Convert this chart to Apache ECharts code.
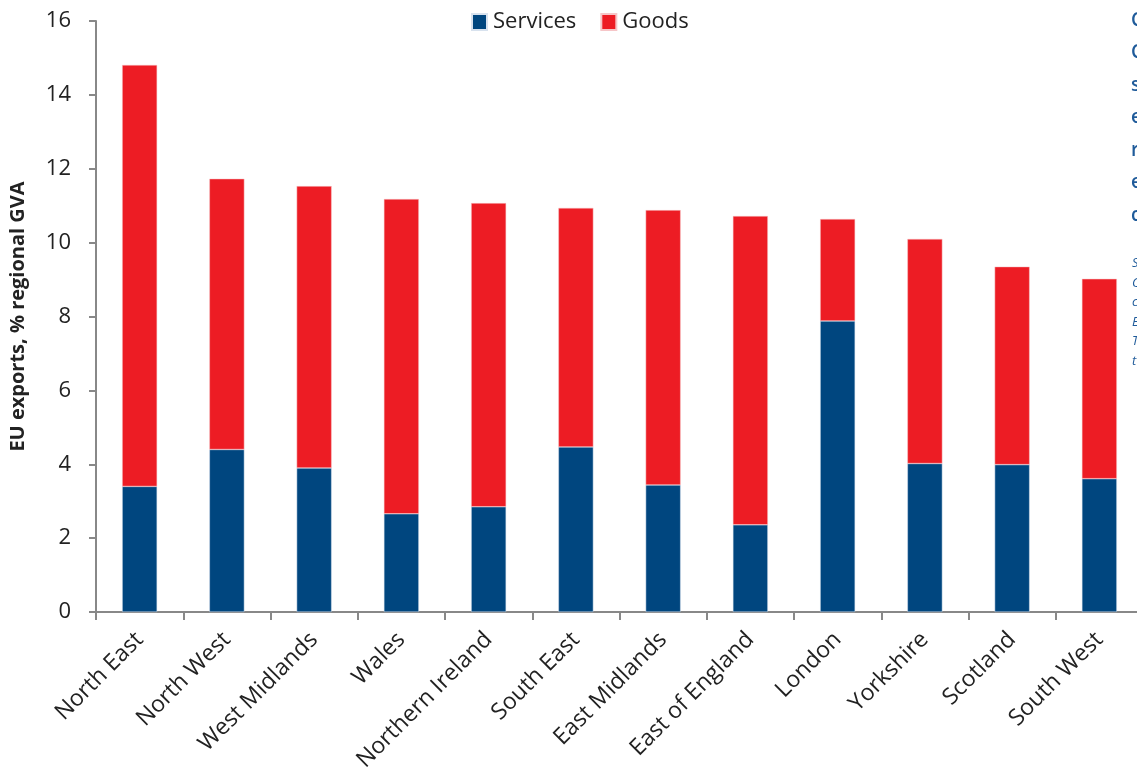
<!DOCTYPE html>
<html>
<head>
<meta charset="utf-8">
<script src="https://cdn.jsdelivr.net/npm/echarts@6/dist/echarts.min.js"></script>
<style>
  html, body { margin: 0; padding: 0; background: #fff; overflow: hidden; }
  #chart { width: 1146px; height: 776px; }
</style>
</head>
<body>
<div id="chart"></div>
<script>
// regions, sorted by total EU exports
const regions = ['North East', 'North West', 'West Midlands', 'Wales', 'Northern Ireland', 'South East',
  'East Midlands', 'East of England', 'London', 'Yorkshire', 'Scotland', 'South West'];
const services = [3.40, 4.40, 3.90, 2.66, 2.85, 4.47, 3.44, 2.36, 7.88, 4.02, 3.99, 3.61];
const goods = [11.41, 7.33, 7.63, 8.52, 8.22, 6.47, 7.44, 8.36, 2.76, 6.08, 5.36, 5.41];
const yTicks = [0, 2, 4, 6, 8, 10, 12, 14, 16];

// clipped side note on the right edge
const noteBold = ['C', 'C', 's', 'e', 'r', 'e', 'c'];
const noteSmall = ['S', 'C', 'c', 'E', 'T', 't'];

const font = 'Open Sans';
const myChart = echarts.init(document.getElementById('chart'));

let graphics = [];
noteBold.forEach(function (t, i) {
  graphics.push({
    type: 'text', left: 1131, top: 11 + i * 32.5,
    style: { text: t, fill: '#1f5b9a', font: '600 19px "Open Sans"' }
  });
});
noteSmall.forEach(function (t, i) {
  graphics.push({
    type: 'text', left: 1132, top: 257 + i * 19.5,
    style: { text: t, fill: '#1f5b9a', font: 'italic 13px "Open Sans"' }
  });
});

const option = {
  animation: false,
  textStyle: { fontFamily: font },
  legend: {
    top: 6, left: 466,
    itemWidth: 15, itemHeight: 16, itemGap: 24,
    icon: 'rect',
    textStyle: { fontSize: 22, color: '#222', fontFamily: font, padding: [0, 0, 0, 1] },
    data: ['Services', 'Goods']
  },
  grid: { left: 95, top: 21, width: 1048, bottom: 164, containLabel: false },
  xAxis: {
    type: 'category',
    data: regions,
    axisLine: { lineStyle: { color: '#888', width: 2 } },
    axisTick: { show: true, length: 8, alignWithLabel: false, lineStyle: { color: '#888', width: 2 } },
    axisLabel: { rotate: 45, fontSize: 23, color: '#222', margin: 24, interval: 0, fontFamily: font }
  },
  yAxis: {
    type: 'value',
    min: 0, max: 16, interval: 2,
    name: 'EU exports, % regional GVA',
    nameLocation: 'middle',
    nameGap: 68,
    nameTextStyle: { fontSize: 20, fontWeight: 'bold', color: '#222', fontFamily: font },
    splitLine: { show: false },
    axisLine: { show: true, lineStyle: { color: '#888', width: 2 } },
    axisTick: { show: true, length: 7, lineStyle: { color: '#888', width: 2 } },
    axisLabel: { fontSize: 22, color: '#222', margin: 25, fontFamily: font,
      formatter: function (v) { return yTicks.indexOf(v) >= 0 ? String(v) : ''; } }
  },
  series: [
    {
      name: 'Services', type: 'bar', stack: 'total', barWidth: 35,
      itemStyle: { color: '#00467f', borderColor: '#d8e2ee', borderWidth: 0.5 },
      data: services
    },
    {
      name: 'Goods', type: 'bar', stack: 'total', barWidth: 35,
      itemStyle: { color: '#ed1c24', borderColor: '#f6c6c8', borderWidth: 0.5 },
      data: goods
    }
  ],
  graphic: graphics
};

myChart.setOption(option);
</script>
</body>
</html>
